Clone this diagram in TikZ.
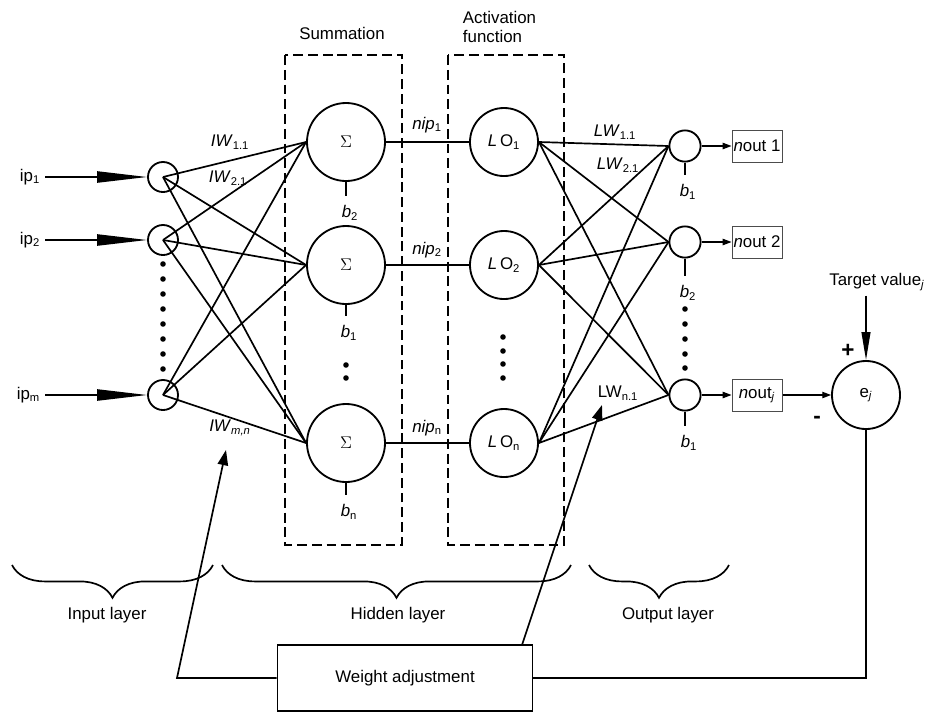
\documentclass[tikz,border=0pt]{standalone}
\usepackage{fontspec}
\setmainfont{Liberation Sans}
\usetikzlibrary{
    arrows.meta,
    decorations.pathreplacing,
    positioning
}

\tikzset{
    neuron/.style={circle, draw, line width=1.3pt, inner sep=0pt},
    wire/.style={line width=1.2pt},
    outbox/.style={draw=black!70, line width=0.7pt, minimum width=1.25cm, minimum height=0.8cm, inner sep=1pt},
    dashbox/.style={draw, line width=1.3pt, dash pattern=on 7pt off 3.5pt},
    layerbrace/.style={decorate, decoration={brace, mirror, amplitude=0.82cm}, line width=1.2pt},
    biaslbl/.style={inner sep=2pt},
    bigtip/.style={-{Triangle[length=1.25cm, width=0.28cm]}},
    midtip/.style={-{Triangle[length=0.7cm, width=0.22cm]}},
    fbtip/.style={-{Triangle[length=0.38cm, width=0.26cm]}},
    smalltip/.style={-{Triangle[length=0.22cm, width=0.16cm]}}
}

\begin{document}
\begin{tikzpicture}[x=0.025cm, y=-0.025cm, font=\fontsize{12}{14}\selectfont]
    \useasboundingbox (0,0) rectangle (929,713);

    % dashed frames
    \draw[dashbox] (285,55) rectangle (402,545);
    \draw[dashbox] (448,55) rectangle (564,545);
    \node (sumt) at (342,33) {Summation};
    \node[align=left, anchor=west] (actt) at (458,27) {Activation\\function};

    % input layer
    \node[neuron, minimum size=0.75cm] (in1) at (163,177) {};
    \node[neuron, minimum size=0.75cm] (in2) at (163,240) {};
    \node[neuron, minimum size=0.75cm] (inm) at (163,395) {};
    \node[anchor=east] (ip1) at (45,177) {ip\textsubscript{1}};
    \node[anchor=east] (ip2) at (45,240) {ip\textsubscript{2}};
    \node[anchor=east] (ipm) at (45,395) {ip\textsubscript{m}};

    % summation
    \node[neuron, minimum size=1.95cm] (s1) at (346,142) {$\Sigma$};
    \node[neuron, minimum size=1.95cm] (s2) at (346,265) {$\Sigma$};
    \node[neuron, minimum size=1.95cm] (sn) at (346,443) {$\Sigma$};
    \node[biaslbl] (bs1) at (350,213) {\textit{b}\textsubscript{2}};
    \node[biaslbl] (bs2) at (349,333) {\textit{b}\textsubscript{1}};
    \node[biaslbl] (bsn) at (349,512) {\textit{b}\textsubscript{n}};

    % activation
    \node[neuron, minimum size=1.7cm] (lo1) at (504,142) {\textit{L}\,O\textsubscript{1}};
    \node[neuron, minimum size=1.7cm] (lo2) at (504,265) {\textit{L}\,O\textsubscript{2}};
    \node[neuron, minimum size=1.7cm] (lon) at (504,443) {\textit{L}\,O\textsubscript{n}};

    % output layer
    \node[neuron, minimum size=0.78cm] (o1) at (685,146) {};
    \node[neuron, minimum size=0.78cm] (o2) at (685,242) {};
    \node[neuron, minimum size=0.78cm] (oj) at (685,395) {};
    \node[biaslbl] (bo1) at (688,192) {\textit{b}\textsubscript{1}};
    \node[biaslbl] (bo2) at (688,293) {\textit{b}\textsubscript{2}};
    \node[biaslbl] (boj) at (689,443) {\textit{b}\textsubscript{1}};
    \node[outbox] (n1) at (757,146) {\textit{n}out 1};
    \node[outbox] (n2) at (757,242) {\textit{n}out 2};
    \node[outbox] (nj) at (757,395) {\textit{n}out\textsubscript{\textit{j}}};

    % error
    \node[neuron, minimum size=1.7cm] (ej) at (866,395) {e\textsubscript{\textit{j}}};
    \node (tv) at (877,282) {Target value\textsubscript{\textit{j}}};
    \node[font=\fontsize{16}{18}\selectfont] (plus) at (848,351) {\textbf{+}};
    \node[font=\fontsize{16}{18}\selectfont] (minus) at (817,420) {\textbf{-}};

    \node[draw, line width=1.1pt, minimum width=6.375cm, minimum height=1.65cm] (wa) at (405,678) {Weight adjustment};

    % weight labels
    \node (iw11) at (230,142) {\textit{IW}\textsubscript{1.1}};
    \node (iw21) at (228,178) {\textit{IW}\textsubscript{2.1}};
    \node (iwmn) at (230,428) {\textit{IW}\textsubscript{\textit{m,n}}};
    \node (lw11) at (615,132) {\textit{LW}\textsubscript{1.1}};
    \node (lw21) at (618,165) {\textit{LW}\textsubscript{2.1}};
    \node (lwn1) at (618,393) {LW\textsubscript{n.1}};
    \node (nip1) at (427,125) {\textit{nip}\textsubscript{1}};
    \node (nip2) at (427,250) {\textit{nip}\textsubscript{2}};
    \node (nipn) at (427,428) {\textit{nip}\textsubscript{n}};

    % dots
    \foreach \y in {264,279,294,309,324,339,354,369}
        \fill (163,\y) circle (2.8);
    \foreach \y in {365,378}
        \fill (346,\y) circle (2.8);
    \foreach \y in {337,351,364,378}
        \fill (503,\y) circle (2.8);
    \foreach \y in {309,324,339,354,368}
        \fill (685,\y) circle (2.8);

    \draw[wire]
    (ip1) edge[bigtip] (in1)
    (ip2) edge[bigtip] (in2)
    (ipm) edge[bigtip] (inm)
    (in1.center) edge (s1.west)
    (in1.center) edge (s2.west)
    (in1.center) edge (sn.west)
    (in2.center) edge (s1.west)
    (in2.center) edge (s2.west)
    (in2.center) edge (sn.west)
    (inm.center) edge (s1.west)
    (inm.center) edge (s2.west)
    (inm.center) edge (sn.west)
    (s1) edge (lo1)
    (s2) edge (lo2)
    (sn) edge (lon)
    (lo1.east) edge (o1.west)
    (lo1.east) edge (o2.west)
    (lo1.east) edge (oj.west)
    (lo2.east) edge (o1.west)
    (lo2.east) edge (o2.west)
    (lo2.east) edge (oj.west)
    (lon.east) edge (o1.west)
    (lon.east) edge (o2.west)
    (lon.east) edge (oj.west);

    % biases
    \draw[wire, shorten >=5pt]
    (s1.south) edge (s1.south |- bs1.north)
    (s2.south) edge (s2.south |- bs2.north)
    (sn.south) edge (sn.south |- bsn.north)
    (o1.south) edge (o1.south |- bo1.north)
    (o2.south) edge (o2.south |- bo2.north)
    (oj.south) edge (oj.south |- boj.north);

    \draw[line width=0.8pt]
    (o1) edge[smalltip] (n1)
    (o2) edge[smalltip] (n2)
    (oj) edge[smalltip] (nj)
    (nj) edge[smalltip] (ej);
    \draw[wire, midtip] (tv.south -| ej.north) -- (ej.north);

    % feedback
    \coordinate (fbl) at (177,678);
    \coordinate (wl) at (226,450);
    \coordinate (wat) at (522,645);
    \coordinate (wr) at (602,405);
    \draw[wire] (ej.south) |- (wa.east);
    \draw[wire, fbtip] (wa.west) -- (fbl) -- (wl);
    \draw[wire, fbtip] (wat) -- (wr);

    % layers
    \draw[layerbrace] (12,565) -- (213,565);
    \draw[layerbrace] (222,565) -- (571,565);
    \draw[layerbrace] (589,565) -- (729,565);
    \node (inl) at (107,615) {Input layer};
    \node (hidl) at (398,615) {Hidden layer};
    \node (outl) at (668,615) {Output layer};
\end{tikzpicture}
\end{document}
